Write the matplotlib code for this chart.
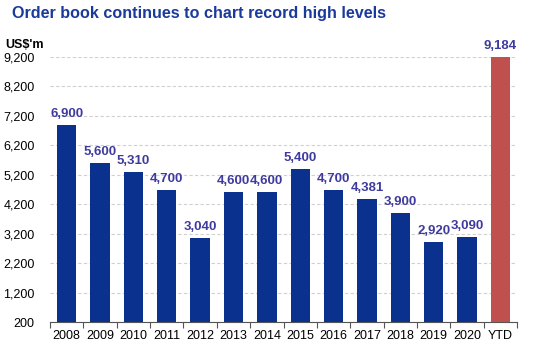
import matplotlib.pyplot as plt
import numpy as np

plt.rcParams['font.family'] = ['Liberation Sans', 'DejaVu Sans']

years = ["2008", "2009", "2010", "2011", "2012", "2013", "2014",
         "2015", "2016", "2017", "2018", "2019", "2020", "YTD"]
values = [6900, 5600, 5310, 4700, 3040, 4600, 4600,
          5400, 4700, 4381, 3900, 2920, 3090, 9184]
yticks = list(range(200, 9201, 1000))

BLUE = "#0b318f"
RED = "#c0504d"
LABEL = "#3f3b9e"


def main():
    fig = plt.figure(figsize=(5.52, 3.53), dpi=100)
    ax = fig.add_axes([0.0906, 0.0878, 0.846, 0.7507])

    x = np.arange(len(years))
    colors = [BLUE] * (len(years) - 1) + [RED]
    bars = ax.bar(x, values, width=0.58, color=colors, zorder=3)

    # 数值标签
    for b, v in zip(bars, values):
        ax.text(b.get_x() + b.get_width() / 2, v + 170, f"{v:,}",
                ha='center', va='bottom', fontsize=9.5, fontweight='bold',
                color=LABEL, clip_on=False)

    ax.set_xlim(-0.5, len(years) - 0.5)
    ax.set_ylim(200, 9200)
    ax.set_yticks(yticks)
    ax.set_yticklabels([f"{t:,}" for t in yticks], fontsize=9)
    ax.set_xticks(x)
    ax.set_xticklabels(years, fontsize=9)
    ax.set_xticks(np.arange(len(years) + 1) - 0.5, minor=True)
    ax.tick_params(axis='x', which='major', length=0, pad=6)
    ax.tick_params(axis='x', which='minor', length=4, width=0.8, color='#555555')
    ax.tick_params(axis='y', length=0, pad=11)

    ax.grid(axis='y', color='#d0d0d0', linestyle=(0, (3, 2)), linewidth=0.8, zorder=0)
    for s in ['top', 'right', 'left']:
        ax.spines[s].set_visible(False)
    ax.spines['bottom'].set_color('#555555')
    ax.spines['bottom'].set_linewidth(0.8)

    fig.text(0.022, 0.962, "Order book continues to chart record high levels",
             fontsize=11.6, fontweight='bold', color='#1a3a9c', va='center')
    fig.text(0.009, 0.873, "US$'m", fontsize=9, fontweight='bold',
             color='black', va='center')

    fig.savefig("out.png", dpi=100)


if __name__ == "__main__":
    main()
